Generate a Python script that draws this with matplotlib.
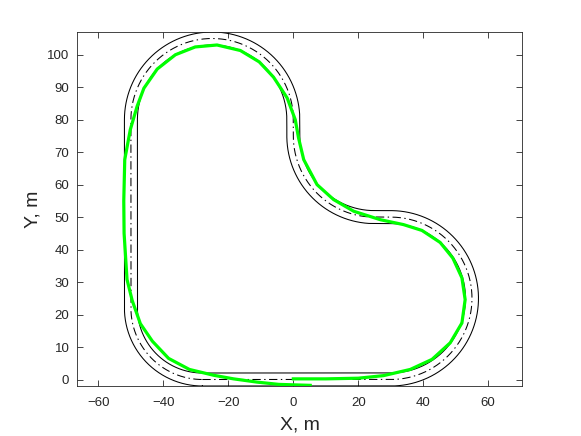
#!/usr/bin/env python
# -*- coding: utf-8 -*-

"""
Track boundaries (outer / inner / centre line) and the driven path, MATLAB-like look.
"""

import numpy as np
import matplotlib
matplotlib.use("Agg")
import matplotlib.pyplot as plt

# track centre line, built from straights and arcs (counter-clockwise)
TRACK_HALF_WIDTH = 2.0
# (kind, params): line -> (x0, y0, x1, y1); arc -> (cx, cy, r, deg_start, deg_end)
TRACK_SEGMENTS = [
    ("line", (-28, 0, 30, 0)),
    ("arc", (30, 25, 25, -90, 90)),
    ("line", (30, 50, 25, 50)),
    ("arc", (25, 75, 25, -90, -180)),
    ("line", (0, 75, 0, 80)),
    ("arc", (-25, 80, 25, 0, 180)),
    ("line", (-50, 80, -50, 22)),
    ("arc", (-28, 22, 22, 180, 270)),
]

# driven trajectory
path_x = [0, 10, 20, 27.8, 36, 42.7, 48.3, 51.9, 52.9, 51.9, 49.1, 45.2, 39.6,
          33.9, 26.8, 18.6, 12.4, 7.3, 3.2, 1.6, 0.6, -1.9, -6.1, -10.5, -16.3,
          -23.5, -30.2, -36.3, -41.9, -46.0, -48.1, -50.2, -51.9, -52.2, -52.1,
          -51.2, -49.6, -47.1, -43.4, -38.4, -32.0, -24.5, -18.4, -11.2, -4.5, 5.2]
path_y = [0.2, 0.2, 0.4, 1.2, 3.1, 6.2, 11.3, 17.4, 24.6, 31.3, 37.4, 42.2, 45.9,
          47.7, 49.2, 51.8, 55.4, 60.0, 67.7, 74.4, 80.0, 86.7, 93.1, 97.8, 101.3,
          103.0, 102.4, 100.0, 95.6, 89.7, 84.1, 76.9, 67.7, 55.0, 45.0,
          30.8, 24.3, 17.2, 11.8, 6.5, 3.1, 1.3, 0.2, -0.8, -1.5, -1.8]

X_TICKS = [-60, -40, -20, 0, 20, 40, 60]
Y_TICKS = [0, 10, 20, 30, 40, 50, 60, 70, 80, 90, 100]
X_LIM = (-66.6, 70.4)
Y_LIM = (-2.0, 107.0)


def centre_line(segments, step=0.2):
    xs, ys = [], []
    for kind, p in segments:
        if kind == "line":
            x0, y0, x1, y1 = p
            n = max(int(np.hypot(x1 - x0, y1 - y0) / step), 2)
            t = np.linspace(0, 1, n, endpoint=False)
            xs.append(x0 + (x1 - x0) * t)
            ys.append(y0 + (y1 - y0) * t)
        else:
            cx, cy, r, a0, a1 = p
            n = max(int(abs(np.radians(a1 - a0)) * r / step), 2)
            a = np.radians(np.linspace(a0, a1, n, endpoint=False))
            xs.append(cx + r * np.cos(a))
            ys.append(cy + r * np.sin(a))
    x = np.concatenate(xs)
    y = np.concatenate(ys)
    return np.append(x, x[0]), np.append(y, y[0])


def offset(x, y, d):
    # shift a closed curve sideways by d (positive = to the left of travel)
    tx = np.gradient(x)
    ty = np.gradient(y)
    tx[0] = tx[-1] = x[1] - x[-2]
    ty[0] = ty[-1] = y[1] - y[-2]
    norm = np.hypot(tx, ty)
    return x - d * ty / norm, y + d * tx / norm


def main():
    plt.rcParams["font.family"] = ["Liberation Sans", "DejaVu Sans"]
    plt.rcParams["lines.scale_dashes"] = False

    cx, cy = centre_line(TRACK_SEGMENTS)
    ox, oy = offset(cx, cy, -TRACK_HALF_WIDTH)
    ix, iy = offset(cx, cy, TRACK_HALF_WIDTH)

    fig = plt.figure(figsize=(5.81, 4.36), dpi=100)
    ax = fig.add_axes([77 / 581, 1 - 386 / 436, 445 / 581, 354 / 436])

    ax.plot(ox, oy, color="black", lw=0.75)
    ax.plot(ix, iy, color="black", lw=0.75)
    ax.plot(cx, cy, color="black", lw=0.75, linestyle=(0, (6, 2.5, 1, 2.5)))
    ax.plot(path_x, path_y, color="#00ff00", lw=2.3, solid_joinstyle="miter")

    ax.set_xlim(*X_LIM)
    ax.set_ylim(*Y_LIM)
    ax.set_xticks(X_TICKS)
    ax.set_yticks(Y_TICKS)

    axis_grey = "#262626"
    for s in ax.spines.values():
        s.set_color(axis_grey)
        s.set_linewidth(0.6)
    ax.tick_params(direction="in", length=4, width=0.6, color=axis_grey,
                   labelcolor=axis_grey, labelsize=9.5, top=True, right=True)
    ax.tick_params(axis="x", pad=8)
    ax.tick_params(axis="y", pad=5.5)

    ax.set_xlabel("X, m", fontsize=14, color=axis_grey, labelpad=5)
    ax.set_ylabel("Y, m", fontsize=14, color=axis_grey, labelpad=4)

    fig.savefig("out.png", dpi=100)
    plt.close(fig)


if __name__ == "__main__":
    main()
